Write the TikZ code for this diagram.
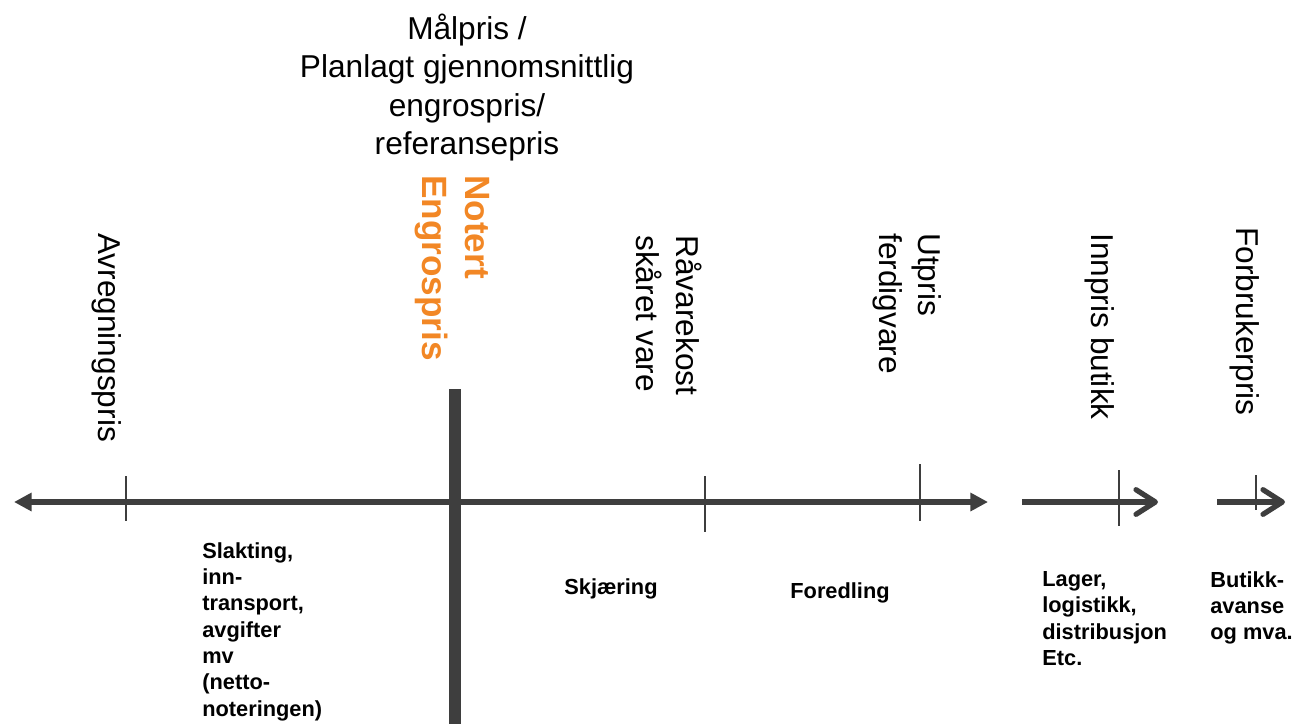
\documentclass[tikz,border=0pt]{standalone}
\usepackage{fontspec}
\setmainfont{Liberation Sans}
\usetikzlibrary{arrows.meta}
\definecolor{axisgray}{RGB}{62,62,62}
\definecolor{notertorange}{RGB}{242,135,37}
\tikzset{
  axisline/.style={line width=3pt, axisgray},
  tickline/.style={line width=1.1pt, axisgray},
  pricelabel/.style={rotate=-90, anchor=north west, inner sep=0pt, align=left,
    font=\fontsize{18}{22.4}\selectfont},
  costlabel/.style={inner sep=0pt, align=left,
    font=\fontsize{12.4}{15}\selectfont\bfseries},
}

\begin{document}
\begin{tikzpicture}[x=0.02cm, y=-0.02cm]
          \useasboundingbox (0,0) rectangle (1292,724);

          \coordinate (split) at (568,502);
          \coordinate (lefttip) at (14,502);
          \coordinate (righttip) at (988,502);
          \coordinate (shopstart) at (1022,502);
          \coordinate (shoptip) at (1158,502);
          \coordinate (consstart) at (1217,502);
          \coordinate (constip) at (1285,502);
          \coordinate (bartop) at (455,389);
          \coordinate (barbottom) at (455,724);

          \draw[axisline, -{Triangle[length=10pt,width=10pt]}] (split) -- (lefttip);
          \draw[axisline, -{Triangle[length=10pt,width=10pt]}] (split) -- (righttip);
          \draw[axisline, -{Straight Barb[length=11pt,width=14pt,round]}] (shopstart) -- (shoptip);
          \draw[axisline, -{Straight Barb[length=11pt,width=14pt,round]}] (consstart) -- (constip);
          \draw[axisgray, line width=6.8pt] (bartop) -- (barbottom);

          \foreach \x/\ya/\yb in {126/476/521, 705/476/532, 920/464/521,
            1119/470/526, 1256/475/510}
            \draw[tickline] (\x,\ya) -- (\x,\yb);

          \node[inner sep=0pt, anchor=north, align=center,
            font=\fontsize{18}{21.7}\selectfont] (target) at (467,14)
            {Målpris /\\Planlagt gjennomsnittlig\\engrospris/\\referansepris};

          \node[pricelabel] (settle) at (122,233) {Avregningspris};
          \node[pricelabel, font=\fontsize{20}{24.4}\selectfont\bfseries,
            text=notertorange] (noted) at (490,175) {Notert\\Engrospris};
          \node[pricelabel] (rawcost) at (702,235) {Råvarekost\\skåret vare};
          \node[pricelabel] (outprice) at (942,233) {Utpris\\ferdigvare};
          \node[pricelabel] (shopin) at (1115,233) {Innpris butikk};
          \node[pricelabel] (consumer) at (1260,227) {Forbrukerpris};

          \node[costlabel, anchor=north west] (slaughter) at (202,542)
            {Slakting,\\inn-\\transport,\\avgifter\\mv\\(netto-\\noteringen)};
          \node[costlabel] (cutting) at (611,589) {Skjæring};
          \node[costlabel] (refining) at (840,593) {Foredling};
          \node[costlabel, anchor=north west] (storage) at (1042,571)
            {Lager,\\logistikk,\\distribusjon\\Etc.};
          \node[costlabel, anchor=north west] (margin) at (1210,571)
            {Butikk-\\avanse\\og mva.};
\end{tikzpicture}
\end{document}
